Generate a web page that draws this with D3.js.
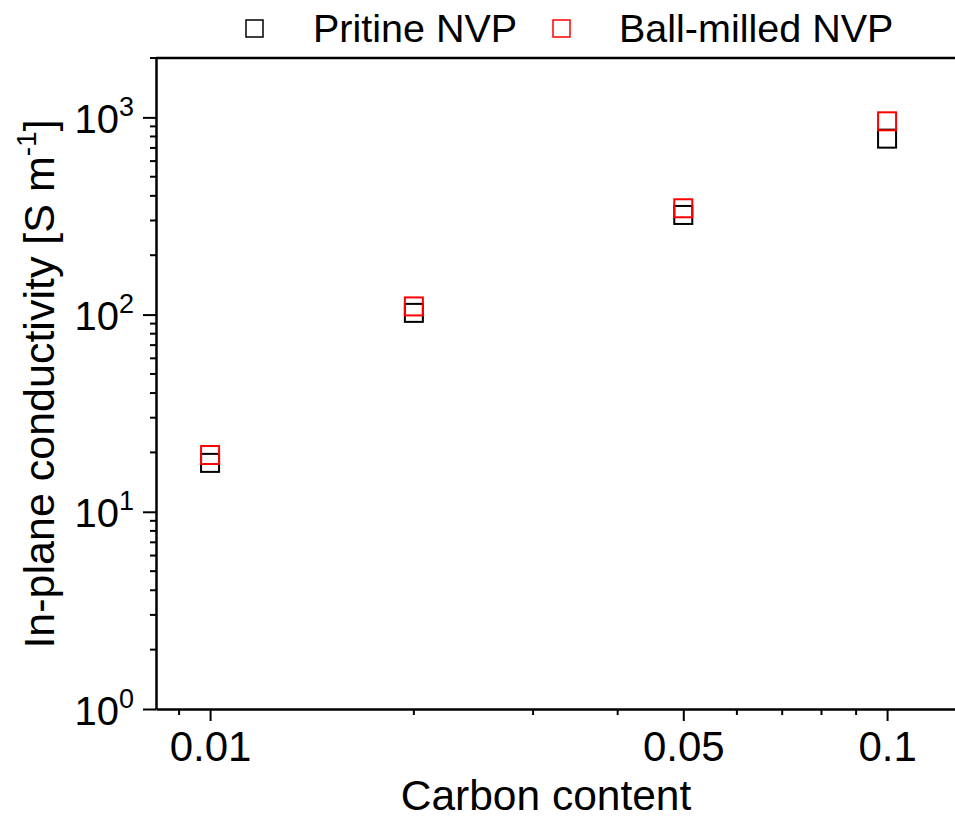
<!DOCTYPE html>
<html>
<head>
<meta charset="utf-8">
<script src="https://cdn.jsdelivr.net/npm/d3@7"></script>
<style>
  html, body { margin: 0; padding: 0; background: #fff; }
  svg { display: block; font-family: "Liberation Sans", Arial, sans-serif; }
</style>
</head>
<body>
<svg id="chart" width="955" height="818"></svg>
<script>
// ---- data ----
const carbonContent = [0.01, 0.02, 0.05, 0.1];
const pristineNVP = [17.7, 102, 320, 780];
const ballMilledNVP = [19.4, 110, 346, 955];
const seriesNames = ["Pritine NVP", "Ball-milled NVP"];
const seriesColors = ["#000000", "#ff0000"];
const xMajorTicks = [0.01, 0.05, 0.1];
const xTickLabels = ["0.01", "0.05", "0.1"];
const xMinorTicks = [0.009, 0.02, 0.03, 0.04, 0.06, 0.07, 0.08, 0.09];
const yMajorTicks = [1, 10, 100, 1000];
const yExponents = ["0", "1", "2", "3"];

(function () {
const svg = d3.select("#chart");
const mLeft = 156, mTop = 58, mBottom = 709;
const pxPerDecadeX = 677;
const xDomain = [0.00832, 0.128];
const x = d3.scaleLog().domain(xDomain)
  .range([mLeft, mLeft + pxPerDecadeX * Math.log10(xDomain[1] / xDomain[0])]);
const y = d3.scaleLog().domain([1, 2000]).range([mBottom, mTop]);

const yMinor = [];
for (let d = 1; d <= 1000; d *= 10) for (let k = 2; k <= 9; k++) if (d * k <= 2000) yMinor.push(d * k);

// X axis
const gx = svg.append("g").attr("transform", `translate(0,${mBottom})`);
gx.call(d3.axisBottom(x).tickValues(xMajorTicks).tickSize(12).tickSizeOuter(0)
  .tickFormat((d, i) => xTickLabels[i]));
gx.selectAll(".tick text").attr("font-size", 42).attr("dy", "0.71em").attr("y", 22)
  .attr("font-family", "Liberation Sans, Arial, sans-serif").attr("fill", "#000");
gx.append("g").selectAll("line").data(xMinorTicks).join("line")
  .attr("x1", d => x(d)).attr("x2", d => x(d)).attr("y1", 0).attr("y2", 6)
  .attr("stroke", "#000");
gx.selectAll("line").attr("stroke-width", 2);
gx.select(".domain").attr("stroke-width", 2.5);

// Y axis
const gy = svg.append("g").attr("transform", `translate(${mLeft},0)`);
gy.call(d3.axisLeft(y).tickValues(yMajorTicks).tickSize(13).tickSizeOuter(0).tickFormat(""));
gy.append("g").selectAll("line").data(yMinor).join("line")
  .attr("y1", d => y(d)).attr("y2", d => y(d)).attr("x1", 0).attr("x2", -6)
  .attr("stroke", "#000");
gy.selectAll("line").attr("stroke-width", 2);
gy.select(".domain").attr("stroke-width", 2.5);
gy.selectAll(".tick").each(function(d, i) {
  const t = d3.select(this).append("text").attr("x", -22).attr("y", 15)
    .attr("text-anchor", "end").attr("fill", "#000").attr("font-size", 40)
    .attr("font-family", "Liberation Sans, Arial, sans-serif");
  t.append("tspan").text("10");
  t.append("tspan").attr("font-size", 27).attr("dy", -17).text(yExponents[i]);
});

// top frame
svg.append("line").attr("x1", mLeft).attr("x2", 955).attr("y1", mTop).attr("y2", mTop)
  .attr("stroke", "#000").attr("stroke-width", 2.5);

// axis titles
svg.append("text").attr("x", 546).attr("y", 810).attr("text-anchor", "middle")
  .attr("font-size", 42.5).text("Carbon content");
const yt = svg.append("text").attr("transform", "translate(54,384) rotate(-90)")
  .attr("text-anchor", "middle").attr("font-size", 43);
yt.append("tspan").text("In-plane conductivity [S m");
yt.append("tspan").attr("font-size", 28).attr("dy", -18).text("-1");
yt.append("tspan").attr("dy", 18).text("]");

// markers
const size = 18;
[pristineNVP, ballMilledNVP].forEach((vals, si) => {
  svg.append("g").selectAll("rect").data(carbonContent).join("rect")
    .attr("x", (d) => x(d) - size / 2)
    .attr("y", (d, i) => y(vals[i]) - size / 2)
    .attr("width", size).attr("height", size)
    .attr("fill", "none").attr("stroke", seriesColors[si]).attr("stroke-width", 2);
});

// legend
const legendX = [246, 553];
const legendTextX = [313, 619];
seriesNames.forEach((name, i) => {
  svg.append("rect").attr("x", legendX[i]).attr("y", 20).attr("width", 17).attr("height", 17)
    .attr("fill", "none").attr("stroke", seriesColors[i]).attr("stroke-width", 1.5);
  svg.append("text").attr("x", legendTextX[i]).attr("y", 42).attr("font-size", 39.5)
    .attr("fill", "#000").text(name);
});
})();
</script>
</body>
</html>
